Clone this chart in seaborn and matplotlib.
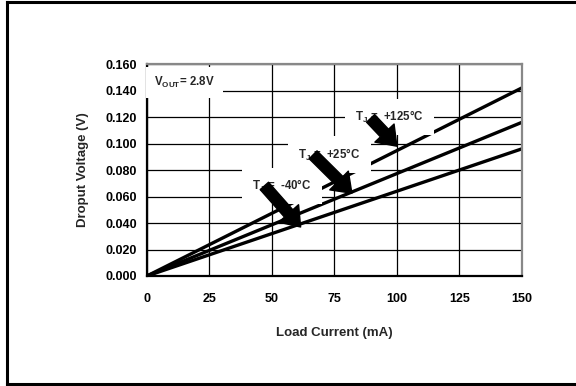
import pandas as pd
import matplotlib
matplotlib.use("Agg")
import matplotlib.pyplot as plt
import seaborn as sns
from matplotlib.lines import Line2D

# data
load_current = [0, 150]
vdrop_125 = [0.000, 0.142]
vdrop_25 = [0.000, 0.116]
vdrop_m40 = [0.000, 0.096]
temps = ["+125°C", "+25°C", "-40°C"]

x_ticks = [0, 25, 50, 75, 100, 125, 150]
y_ticks = [0.000, 0.020, 0.040, 0.060, 0.080, 0.100, 0.120, 0.140, 0.160]

df = pd.concat([
    pd.DataFrame({"current": load_current, "vdrop": v, "temp": t})
    for v, t in zip([vdrop_125, vdrop_25, vdrop_m40], temps)
])

sns.set_theme(style="white")
plt.rcParams["font.family"] = ["Liberation Sans", "DejaVu Sans"]
plt.rcParams["font.weight"] = "bold"

fig = plt.figure(figsize=(5.76, 3.86), dpi=100)
ax = fig.add_axes([0.255, 0.285, 0.651, 0.549])

sns.lineplot(data=df, x="current", y="vdrop", units="temp", estimator=None,
             color="black", linewidth=2.4, legend=False, ax=ax, zorder=2)

ax.set_xlim(0, 150)
ax.set_ylim(0, 0.16)
ax.set_xticks(x_ticks)
ax.set_yticks(y_ticks)
ax.set_yticklabels([f"{v:.3f}" for v in y_ticks])
ax.grid(True, color="black", linewidth=0.9)
ax.set_axisbelow(True)
ax.tick_params(length=0, labelsize=9, colors="black")
ax.tick_params(axis="y", pad=7)
ax.tick_params(axis="x", pad=12)
for lab in ax.get_xticklabels() + ax.get_yticklabels():
    lab.set_fontweight("bold")

ax.set_xlabel("Load Current (mA)", fontsize=9.5, fontweight="bold", labelpad=16)
ax.set_ylabel("Droput Voltage (V)", fontsize=9.5, fontweight="bold", labelpad=12)

for side in ["left", "bottom"]:
    ax.spines[side].set_color("black")
    ax.spines[side].set_linewidth(1.6)
for side in ["top", "right"]:
    ax.spines[side].set_color("#888888")
    ax.spines[side].set_linewidth(1.6)

box = dict(boxstyle="square,pad=0.9", fc="white", ec="none")
ax.text(15, 0.146, r"V$_{\mathregular{OUT}}$= 2.8V", fontsize=8.3, fontweight="bold",
        ha="center", va="center", bbox=dict(boxstyle="square,pad=0.7", fc="white", ec="none"),
        zorder=3)

labels = [
    ("T$_{\\mathregular{J}}$ =  +125°C", (97, 0.120), (89.5, 0.119), (100, 0.098)),
    ("T$_{\\mathregular{J}}$ =  +25°C", (73, 0.0915), (66.5, 0.0915), (82, 0.0625)),
    ("T$_{\\mathregular{J}}$ =  -40°C", (54, 0.068), (47, 0.068), (61.5, 0.037)),
]
for text, pos, tail, tip in labels:
    ax.text(pos[0], pos[1], text, fontsize=8.3, fontweight="bold", ha="center", va="center",
            bbox=box, zorder=3)
    ax.annotate("", xy=tip, xytext=tail, zorder=4,
                arrowprops=dict(width=8, headwidth=19, headlength=13, shrink=0,
                                fc="black", ec="black"))

# outer frame: left, top and bottom only (right edge is cut off in the original)
fl, ft, fb = 0.012, 0.995, 0.005
for xs, ys in [([fl, fl], [fb, ft]), ([fl, 1.0], [ft, ft]), ([fl, 1.0], [fb, fb])]:
    fig.add_artist(Line2D(xs, ys, transform=fig.transFigure, color="black", lw=2.2,
                          solid_capstyle="projecting"))

fig.savefig("out.png", dpi=100, facecolor="white")
